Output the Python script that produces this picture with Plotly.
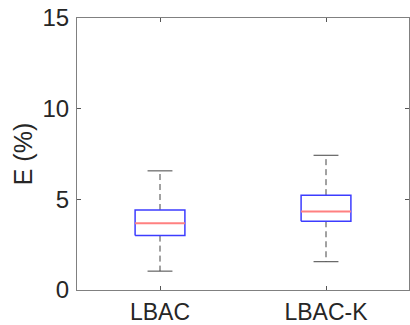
import plotly.graph_objects as go

# ---- data ----
categories = ["LBAC", "LBAC-K"]
lower_whisker = [1.04, 1.56]
q1 = [3.00, 3.79]
median = [3.68, 4.33]
q3 = [4.41, 5.23]
upper_whisker = [6.57, 7.43]
y_ticks = [0, 5, 10, 15]

positions = [i + 1 for i in range(len(categories))]
half_box = 0.15
half_cap = 0.075

box_x, box_y = [], []
med_x, med_y = [], []
wh_x, wh_y = [], []
cap_x, cap_y = [], []
for p, lo, a, m, b, hi in zip(positions, lower_whisker, q1, median, q3, upper_whisker):
    box_x += [p - half_box, p + half_box, p + half_box, p - half_box, p - half_box, None]
    box_y += [a, a, b, b, a, None]
    med_x += [p - half_box, p + half_box, None]
    med_y += [m, m, None]
    wh_x += [p, p, None, p, p, None]
    wh_y += [b, hi, None, a, lo, None]
    cap_x += [p - half_cap, p + half_cap, None, p - half_cap, p + half_cap, None]
    cap_y += [hi, hi, None, lo, lo, None]

fig = go.Figure()
fig.add_trace(go.Scatter(x=wh_x, y=wh_y, mode="lines",
                         line=dict(color="#444444", width=1, dash="6px,4px"),
                         hoverinfo="skip"))
fig.add_trace(go.Scatter(x=cap_x, y=cap_y, mode="lines",
                         line=dict(color="#444444", width=1), hoverinfo="skip"))
fig.add_trace(go.Scatter(x=box_x, y=box_y, mode="lines",
                         line=dict(color="#3c3cff", width=1.5), hoverinfo="skip"))
fig.add_trace(go.Scatter(x=med_x, y=med_y, mode="lines",
                         line=dict(color="#ff8080", width=1.8), hoverinfo="skip"))

font_family = "Liberation Sans, Arial, Helvetica, sans-serif"
fig.update_layout(
    width=410, height=325,
    margin=dict(l=77, r=1, t=18, b=35),
    paper_bgcolor="white", plot_bgcolor="white",
    showlegend=False,
    font=dict(family=font_family, size=24, color="#262626"),
    xaxis=dict(
        range=[0.5, 2.5], automargin=False,
        tickmode="array", tickvals=positions, ticktext=categories,
        ticks="inside", ticklen=4, tickcolor="#555555",
        showline=True, linecolor="#808080", linewidth=1, mirror="ticks",
        showgrid=False, zeroline=False,
        ticklabelstandoff=1,
        tickfont=dict(size=23, color="#262626"),
    ),
    yaxis=dict(
        range=[0, 15], automargin=False,
        tickmode="array", tickvals=y_ticks,
        ticks="inside", ticklen=4, tickcolor="#555555",
        showline=True, linecolor="#808080", linewidth=1, mirror="ticks",
        showgrid=False, zeroline=False,
        ticklabelstandoff=2,
        tickfont=dict(size=24, color="#262626"),
        title=dict(text="E (%)", font=dict(size=25, color="#262626"), standoff=2),
    ),
)

fig.write_html("out.html")
